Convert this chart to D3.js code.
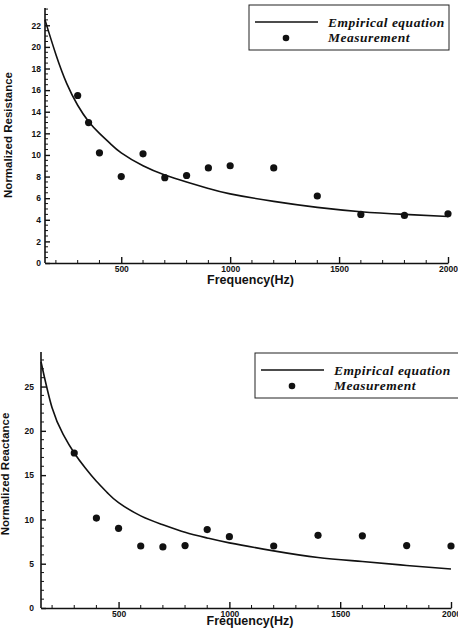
<!DOCTYPE html>
<html>
<head>
<meta charset="utf-8">
<script src="https://cdn.jsdelivr.net/npm/d3@7"></script>
<style>
  body { margin: 0; background: #fff; }
  svg { display: block; }
  .tick-label { font-family: "Liberation Sans", Arial, sans-serif; font-weight: bold; font-size: 8.5px; fill: #111; }
  .axis-title { font-family: "Liberation Sans", Arial, sans-serif; font-weight: bold; fill: #111; }
  .legend-text { font-family: "Liberation Serif", "Times New Roman", serif; font-weight: bold; font-style: italic; font-size: 13.5px; letter-spacing: 0.5px; fill: #111; }
</style>
</head>
<body>
<div id="chart"></div>
<script>
const W = 458;
const H = 630;

// frequency grid used for the empirical curves
const curveFreq = [150, 200, 250, 300, 350, 400, 450, 500, 600, 700, 800, 900, 1000, 1200, 1400, 1600, 1800, 2000];

// resistance panel
const resCurve = [22.5, 19.3, 16.6, 14.6, 13.1, 12.0, 11.05, 10.2, 9.0, 8.15, 7.5, 6.9, 6.4, 5.7, 5.15, 4.75, 4.5, 4.3];
const resFreq = [300, 350, 400, 500, 600, 700, 800, 900, 1000, 1200, 1400, 1600, 1800, 2000];
const resMeas = [15.5, 13.0, 10.2, 8.0, 10.1, 7.9, 8.1, 8.8, 9.0, 8.8, 6.2, 4.5, 4.4, 4.55];
const resTicks = [0, 2, 4, 6, 8, 10, 12, 14, 16, 18, 20, 22];

// reactance panel
const reaCurve = [27.8, 22.6, 19.6, 17.5, 15.8, 14.3, 13.0, 11.9, 10.4, 9.4, 8.55, 7.9, 7.35, 6.45, 5.7, 5.25, 4.8, 4.4];
const reaFreq = [300, 400, 500, 600, 700, 800, 900, 1000, 1200, 1400, 1600, 1800, 2000];
const reaMeas = [17.5, 10.15, 9.0, 7.0, 6.9, 7.05, 8.85, 8.05, 7.0, 8.2, 8.15, 7.05, 7.0];
const reaTicks = [0, 5, 10, 15, 20, 25];

const xTicks = [500, 1000, 1500, 2000];
const legendLabels = ["Empirical equation", "Measurement"];

const svg = d3.select("#chart").append("svg")
    .attr("width", W)
    .attr("height", H);

function drawPanel(p) {
    const x = d3.scaleLinear().domain([150, 2000]).range([p.left, p.right]);
    const y = d3.scaleLinear().domain([0, p.yMax]).range([p.bottom, p.top]);
    const g = svg.append("g");

    // x axis, ticks pointing inward
    const xAxis = g.append("g")
        .attr("transform", `translate(0,${p.bottom})`)
        .call(d3.axisBottom(x).tickValues(xTicks).tickFormat(d3.format("d"))
            .tickSizeInner(-6).tickSizeOuter(0).tickPadding(p.xPad));
    xAxis.select(".domain").attr("stroke", "#111").attr("stroke-width", 1.6);
    xAxis.selectAll(".tick line").attr("stroke", "#111").attr("stroke-width", 1.4);
    xAxis.selectAll(".tick text").attr("class", "tick-label").attr("fill", null);

    const xMinor = d3.range(200, 2000, 100).filter(d => d % 500 !== 0);
    g.selectAll(".xminor").data(xMinor).enter().append("line")
        .attr("x1", d => x(d)).attr("x2", d => x(d))
        .attr("y1", p.bottom).attr("y2", p.bottom - 3)
        .attr("stroke", "#111").attr("stroke-width", 1);

    // y axis
    const yAxis = g.append("g")
        .attr("transform", `translate(${p.left},0)`)
        .call(d3.axisLeft(y).tickValues(p.ticks).tickSizeInner(-5).tickSizeOuter(0).tickPadding(p.yPad));
    yAxis.select(".domain").attr("stroke", "#111").attr("stroke-width", 1.6)
        .attr("d", `M0,${p.bottom}V${p.top}`);
    yAxis.selectAll(".tick line").attr("stroke", "#111").attr("stroke-width", 1.4);
    yAxis.selectAll(".tick text").attr("class", "tick-label").attr("fill", null);

    const yMinor = d3.range(0, p.yMax, p.minorStep).filter(d => !p.ticks.includes(+d.toFixed(2)));
    g.selectAll(".yminor").data(yMinor).enter().append("line")
        .attr("x1", p.left).attr("x2", p.left + 3)
        .attr("y1", d => y(d)).attr("y2", d => y(d))
        .attr("stroke", "#111").attr("stroke-width", 1);

    // empirical curve
    const line = d3.line()
        .x((d, i) => x(curveFreq[i]))
        .y(d => y(d))
        .curve(d3.curveNatural);
    g.append("path")
        .datum(p.curve)
        .attr("d", line)
        .attr("fill", "none")
        .attr("stroke", "#111")
        .attr("stroke-width", 1.6);

    // measurements
    g.selectAll(".meas").data(p.meas).enter().append("circle")
        .attr("cx", (d, i) => x(p.freq[i]))
        .attr("cy", d => y(d))
        .attr("r", 3.6)
        .attr("fill", "#111");

    // axis titles
    g.append("text").attr("class", "axis-title")
        .attr("x", (p.left + p.right) / 2 + 4)
        .attr("y", p.bottom + p.titleOffset)
        .attr("text-anchor", "middle")
        .attr("font-size", "12.5px")
        .text("Frequency(Hz)");
    g.append("text").attr("class", "axis-title")
        .attr("transform", `translate(${p.titleX},${p.titleY}) rotate(-90)`)
        .attr("text-anchor", "middle")
        .attr("font-size", "11.5px")
        .text(p.title);

    // legend
    const L = p.legend;
    g.append("rect")
        .attr("x", L.x).attr("y", L.y)
        .attr("width", L.w).attr("height", L.h)
        .attr("fill", "#fff").attr("stroke", "#222").attr("stroke-width", 1);
    g.append("line")
        .attr("x1", L.x + 6).attr("x2", L.x + 69)
        .attr("y1", L.y + 17).attr("y2", L.y + 17)
        .attr("stroke", "#111").attr("stroke-width", 1.6);
    g.append("circle")
        .attr("cx", L.x + 37).attr("cy", L.y + 33)
        .attr("r", 3.3).attr("fill", "#111");
    g.selectAll(".leg").data(legendLabels).enter().append("text")
        .attr("class", "legend-text")
        .attr("x", L.x + 79)
        .attr("y", (d, i) => L.y + 22 + i * 15)
        .text(d => d);
}

drawPanel({
    left: 45, right: 448, top: 8, bottom: 263, yMax: 23.6,
    ticks: resTicks, minorStep: 0.5, xPad: 3, yPad: 4, titleOffset: 21,
    curve: resCurve, freq: resFreq, meas: resMeas,
    title: "Normalized Resistance", titleX: 12, titleY: 135,
    legend: { x: 249, y: 5, w: 200, h: 45 }
});

drawPanel({
    left: 41, right: 451, top: 352, bottom: 608, yMax: 28.9,
    ticks: reaTicks, minorStep: 1, xPad: 3, yPad: 7, titleOffset: 17,
    curve: reaCurve, freq: reaFreq, meas: reaMeas,
    title: "Normalized Reactance", titleX: 9, titleY: 474,
    legend: { x: 255, y: 353, w: 205, h: 45 }
});
</script>
</body>
</html>
